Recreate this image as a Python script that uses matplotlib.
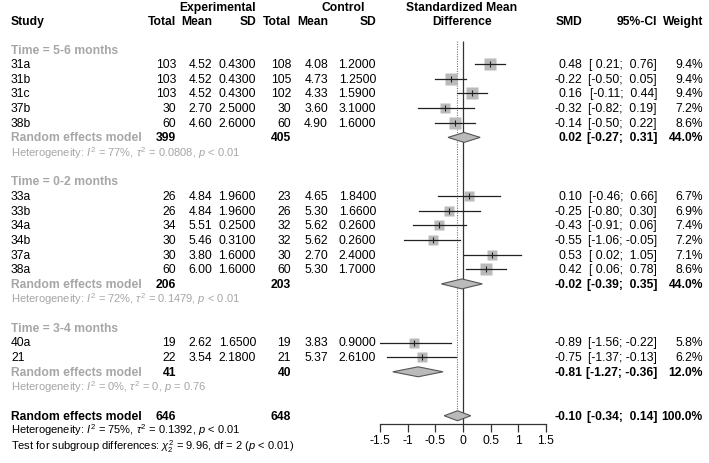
import matplotlib
matplotlib.use('Agg')
import matplotlib.pyplot as plt
from matplotlib.patches import Polygon
import numpy as np

plt.rcParams['font.family'] = ['Liberation Sans', 'DejaVu Sans']
plt.rcParams['mathtext.fontset'] = 'custom'
plt.rcParams['mathtext.rm'] = 'Liberation Sans'
plt.rcParams['mathtext.it'] = 'Liberation Sans:italic'
plt.rcParams['mathtext.bf'] = 'Liberation Sans:bold'

# ---- data ----
group_labels = ['Time = 5-6 months', 'Time = 0-2 months', 'Time = 3-4 months']

studies = [['31a', '31b', '31c', '37b', '38b'],
           ['33a', '33b', '34a', '34b', '37a', '38a'],
           ['40a', '21']]
exp_n = [[103, 103, 103, 30, 60], [26, 26, 34, 30, 30, 60], [19, 22]]
exp_mean = [[4.52, 4.52, 4.52, 2.70, 4.60], [4.84, 4.84, 5.51, 5.46, 3.80, 6.00], [2.62, 3.54]]
exp_sd = [[0.43, 0.43, 0.43, 2.5, 2.6], [1.96, 1.96, 0.25, 0.31, 1.6, 1.6], [1.65, 2.18]]
ctl_n = [[108, 105, 102, 30, 60], [23, 26, 32, 32, 30, 60], [19, 21]]
ctl_mean = [[4.08, 4.73, 4.33, 3.60, 4.90], [4.65, 5.30, 5.62, 5.62, 2.70, 5.30], [3.83, 5.37]]
ctl_sd = [[1.2, 1.25, 1.59, 3.1, 1.6], [1.84, 1.66, 0.26, 0.26, 2.4, 1.7], [0.9, 2.61]]
smd = [[0.48, -0.22, 0.16, -0.32, -0.14], [0.10, -0.25, -0.43, -0.55, 0.53, 0.42], [-0.89, -0.75]]
ci_lo = [[0.21, -0.50, -0.11, -0.82, -0.50], [-0.46, -0.80, -0.91, -1.06, 0.02, 0.06], [-1.56, -1.37]]
ci_hi = [[0.76, 0.05, 0.44, 0.19, 0.22], [0.66, 0.30, 0.06, -0.05, 1.05, 0.78], [-0.22, -0.13]]
weight = [[9.4, 9.4, 9.4, 7.2, 8.6], [6.7, 6.9, 7.4, 7.2, 7.1, 8.6], [5.8, 6.2]]

grp_exp_n = [399, 206, 41]
grp_ctl_n = [405, 203, 40]
grp_smd = [0.02, -0.02, -0.81]
grp_lo = [-0.27, -0.39, -1.27]
grp_hi = [0.31, 0.35, -0.36]
grp_w = [44.0, 44.0, 12.0]
grp_het = [r'Heterogeneity: $I^2$ = 77%, $\tau^2$ = 0.0808, $p$ < 0.01',
           r'Heterogeneity: $I^2$ = 72%, $\tau^2$ = 0.1479, $p$ < 0.01',
           r'Heterogeneity: $I^2$ = 0%, $\tau^2$ = 0, $p$ = 0.76']

all_exp_n, all_ctl_n = 646, 648
all_smd, all_lo, all_hi, all_w = -0.10, -0.34, 0.14, 100.0
all_het = r'Heterogeneity: $I^2$ = 75%, $\tau^2$ = 0.1392, $p$ < 0.01'
subgroup_test = r'Test for subgroup differences: $\chi^2_2$ = 9.96, df = 2 ($p$ < 0.01)'

xticks = [-1.5, -1, -0.5, 0, 0.5, 1, 1.5]
xtick_labels = ['-1.5', '-1', '-0.5', '0', '0.5', '1', '1.5']

# ---- layout (pixels) ----
W, H = 709, 464
ROW0, ROWH = 50.5, 14.65
FS = 8.7
FS_HET = 8.0
GREY = '#a6a6a6'
SQ = '#bababa'

col_study = 11
col_en, col_em, col_esd = 176, 212, 256
col_cn, col_cm, col_csd = 291, 328, 376
col_fp = 462
col_smd, col_ci, col_w = 582, 657, 703


def ypix(k):
    return ROW0 + ROWH * k


def fmt_ci(lo, hi):
    return '[' + f'{lo:.2f}'.rjust(5) + '; ' + f'{hi:.2f}'.rjust(5) + ']'


fig = plt.figure(figsize=(W / 100, H / 100), dpi=100)
tx = fig.add_axes([0, 0, 1, 1])
tx.set_xlim(0, W)
tx.set_ylim(H, 0)
tx.axis('off')

ax_top, ax_bot = 42, 425
fx = fig.add_axes([380 / W, (H - ax_bot) / H, 166 / W, (ax_bot - ax_top) / H])
fx.set_xlim(-1.5, 1.5)
fx.set_ylim((ax_bot - ROW0) / ROWH, (ax_top - ROW0) / ROWH)
fx.patch.set_alpha(0)
for s in ['top', 'left', 'right']:
    fx.spines[s].set_visible(False)
fx.spines['bottom'].set_color('#333333')
fx.spines['bottom'].set_linewidth(0.9)
fx.set_yticks([])
fx.set_xticks(xticks)
fx.set_xticklabels(xtick_labels, fontsize=FS)
fx.tick_params(axis='x', length=6, width=0.9, color='#333333', pad=1.5)


def txt(x, k, s, ha='right', bold=False, color='black', size=FS, dy=0.0):
    tx.text(x, ypix(k) + dy, s, ha=ha, va='center', fontsize=size,
            fontweight='bold' if bold else 'normal', color=color)


# header
tx.text(218, 8, 'Experimental', ha='center', va='center', fontsize=FS, fontweight='bold')
tx.text(343, 8, 'Control', ha='center', va='center', fontsize=FS, fontweight='bold')
tx.text(col_fp, 8, 'Standardized Mean', ha='center', va='center', fontsize=FS, fontweight='bold')
hdr_y = 22
for x, s, ha in [(col_study, 'Study', 'left'), (col_en, 'Total', 'right'), (col_em, 'Mean', 'right'),
                 (col_esd, 'SD', 'right'), (col_cn, 'Total', 'right'), (col_cm, 'Mean', 'right'),
                 (col_csd, 'SD', 'right'), (col_fp, 'Difference', 'center'), (col_smd, 'SMD', 'right'),
                 (col_ci, '95%-CI', 'right'), (col_w, 'Weight', 'right')]:
    tx.text(x, hdr_y, s, ha=ha, va='center', fontsize=FS, fontweight='bold')


def diamond(est, lo, hi, k, h=0.34):
    fx.add_patch(Polygon([(lo, k), (est, k - h), (hi, k), (est, k + h)], closed=True,
                         facecolor=SQ, edgecolor='#555555', linewidth=0.8, zorder=4))


k = 0
for g in range(len(group_labels)):
    txt(col_study, k, group_labels[g], ha='left', bold=True, color=GREY)
    k += 1
    for i in range(len(studies[g])):
        txt(col_study, k, studies[g][i], ha='left')
        txt(col_en, k, str(exp_n[g][i]))
        txt(col_em, k, f'{exp_mean[g][i]:.2f}')
        txt(col_esd, k, f'{exp_sd[g][i]:.4f}')
        txt(col_cn, k, str(ctl_n[g][i]))
        txt(col_cm, k, f'{ctl_mean[g][i]:.2f}')
        txt(col_csd, k, f'{ctl_sd[g][i]:.4f}')
        txt(col_smd, k, f'{smd[g][i]:.2f}')
        txt(col_ci, k, fmt_ci(ci_lo[g][i], ci_hi[g][i]))
        txt(col_w, k, f'{weight[g][i]:.1f}%')
        fx.plot([ci_lo[g][i], ci_hi[g][i]], [k, k], color='#222222', lw=0.9, zorder=3)
        fx.plot(smd[g][i], k, marker='s', ms=2.9 * np.sqrt(weight[g][i]), color=SQ,
                mec='none', zorder=2)
        fx.plot(smd[g][i], k, marker='|', ms=4, color='#222222', mew=0.8, zorder=5)
        k += 1
    txt(col_study, k, 'Random effects model', ha='left', bold=True, color=GREY)
    txt(col_en, k, str(grp_exp_n[g]), bold=True)
    txt(col_cn, k, str(grp_ctl_n[g]), bold=True)
    txt(col_smd, k, f'{grp_smd[g]:.2f}', bold=True)
    txt(col_ci, k, fmt_ci(grp_lo[g], grp_hi[g]), bold=True)
    txt(col_w, k, f'{grp_w[g]:.1f}%', bold=True)
    diamond(grp_smd[g], grp_lo[g], grp_hi[g], k)
    k += 1
    txt(col_study, k, grp_het[g], ha='left', color=GREY, size=FS_HET)
    k += 2

# overall
txt(col_study, k, 'Random effects model', ha='left', bold=True)
txt(col_en, k, str(all_exp_n), bold=True)
txt(col_cn, k, str(all_ctl_n), bold=True)
txt(col_smd, k, f'{all_smd:.2f}', bold=True)
txt(col_ci, k, fmt_ci(all_lo, all_hi), bold=True)
txt(col_w, k, f'{all_w:.1f}%', bold=True)
diamond(all_smd, all_lo, all_hi, k)
txt(col_study, k + 1, all_het, ha='left', size=FS_HET, dy=-1.5)
txt(col_study, k + 2, subgroup_test, ha='left', size=FS_HET, dy=1.0)

ylo, yhi = fx.get_ylim()
fx.vlines(0, yhi, ylo, color='#333333', lw=0.9, zorder=1)
fx.vlines(all_smd, yhi, k - 0.34, color='#777777', lw=0.8, linestyles=(0, (1, 1.2)), zorder=1)

fig.savefig('out.png', dpi=100)
